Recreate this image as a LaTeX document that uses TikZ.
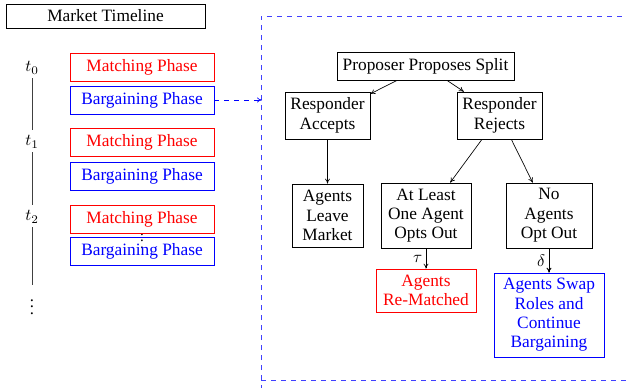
\documentclass[tikz,border=0pt]{standalone}
\usepackage{fontspec}
\setmainfont{Liberation Serif}
\usetikzlibrary{arrows.meta}
\begin{document}
\begin{tikzpicture}[x=0.6pt,y=-0.6pt,
  box/.style={draw,align=center,inner sep=0pt,font=\fontsize{10.4}{11.6}\selectfont},
  matchbox/.style={box,draw=red,text=red,minimum width=86.4pt,minimum height=16.8pt},
  bargbox/.style={box,draw=blue,text=blue,minimum width=86.4pt,minimum height=16.8pt},
  arr/.style={->,>={To[length=3pt,width=3pt]}},
  tline/.style={draw=black!75,line width=0.5pt}]
\useasboundingbox (0,0) rectangle (626,388);
% left: timeline
\node[box,minimum width=119.4pt,minimum height=14.4pt] (title) at (105.5,16) {Market Timeline};
\node (t0) at (32,68) {$t_0$};
\node (t1) at (32,142) {$t_1$};
\node (t2) at (32,217) {$t_2$};
\node (tdots) at (32,302) {$\vdots$};
\coordinate (tend) at (32,285);
\draw[tline] (t0.south) ++(0,-2) -- (t1.north);
\draw[tline] (t1.south) ++(0,-2) -- (t2.north);
\draw[tline] (t2.south) ++(0,-2) -- (tend);
\node[font=\small] (mdots) at (142,236) {$\vdots$};
\node[matchbox] (m1) at (142,67) {Matching Phase};
\node[bargbox] (b1) at (142,100) {Bargaining Phase};
\node[matchbox] (m2) at (142,142.5) {Matching Phase};
\node[bargbox] (b2) at (142,176) {Bargaining Phase};
\node[matchbox] (m3) at (142,219) {Matching Phase};
\node[bargbox] (b3) at (142,251.5) {Bargaining Phase};
% dashed frame
\draw[blue!75,dashed] (261,390) -- (261,16) -- (630,16);
\draw[blue!75,dashed] (261,380) -- (630,380);
\coordinate (frameL) at (262,100);
\draw[blue,dashed,arr] (b1.east) -- (frameL);
% right: bargaining tree
\node[box,minimum width=106.2pt,minimum height=16.8pt] (prop) at (425.5,66) {Proposer Proposes Split};
\node[box,minimum width=51pt,minimum height=28.2pt] (acc) at (327.5,115.5) {Responder\\Accepts};
\node[box,minimum width=51pt,minimum height=28.2pt] (rej) at (499.5,115.5) {Responder\\Rejects};
\node[box,minimum width=42.6pt,minimum height=37.8pt] (leave) at (327.5,215.5) {Agents\\Leave\\Market};
\node[box,minimum width=54pt,minimum height=39pt] (opt) at (426,215.5) {At Least\\One Agent\\Opts Out};
\node[box,minimum width=51.6pt,minimum height=39pt] (noopt) at (549,215.5) {No\\Agents\\Opt Out};
\node[box,draw=red,text=red,minimum width=60pt,minimum height=25.8pt] (rem) at (426,290.5) {Agents\\Re-Matched};
\node[box,draw=blue,text=blue,minimum width=66pt,minimum height=50.4pt] (swap) at (549,315) {Agents Swap\\Roles and\\Continue\\Bargaining};
\draw[arr] (prop) -- (acc);
\draw[arr] (prop) -- (rej);
\draw[arr] (acc) -- (leave);
\draw[arr] (rej) -- (opt);
\draw[arr] (rej) -- (noopt);
\draw[arr] (opt) -- node[left,inner sep=2pt] {$\tau$} (rem);
\draw[arr,semithick] (noopt) -- node[left,inner sep=2pt] {$\delta$} (swap);
\end{tikzpicture}
\end{document}
